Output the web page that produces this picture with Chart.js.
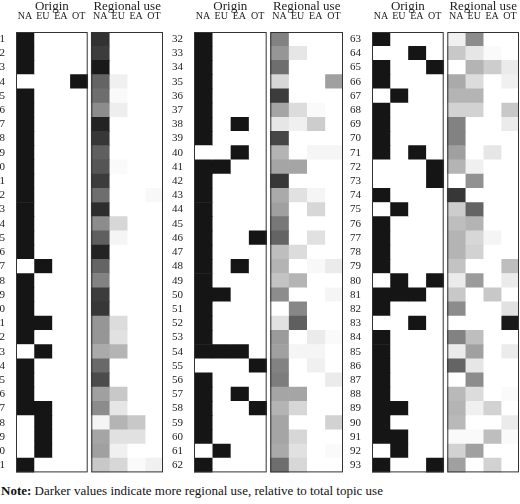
<!DOCTYPE html>
<html lang="en">
<head>
<meta charset="UTF-8">
<script src="https://cdn.jsdelivr.net/npm/chart.js"></script>
<title>Origin and regional use</title>
<style>
  body { margin: 0; background: #fff; font-family: "Liberation Serif", "Times New Roman", "DejaVu Serif", serif; }
  .panel { position: absolute; top: 0; height: 482px; }
  .note { position: absolute; left: 1px; top: 483px; font-size: 13px; color: #111; }
</style>
</head>
<body>
<div class="panel" style="left:0;width:164px"><canvas id="p1"></canvas></div>
<div class="panel" style="left:172px;width:172px"><canvas id="p2"></canvas></div>
<div class="panel" style="left:346px;width:174px"><canvas id="p3"></canvas></div>
<div class="note"><b>Note:</b> Darker values indicate more regional use, relative to total topic use</div>
<script>
const regions = ['NA', 'EU', 'EA', 'OT'];

// origin region(s) of each topic, 1..93
const origin = [
  'NA','NA','NA','OT','NA','NA','NA','NA','NA','NA','NA','NA','NA','NA','NA','NA',
  'EU','NA','NA','NA','NA EU','NA','EU','NA','NA','NA','NA EU','EU','EU','EU','NA',
  'NA','NA','NA','NA','NA','NA','NA EA','NA','EA','NA EU','NA','NA','NA','NA','NA OT',
  'NA','NA EA','NA','NA EU','NA','NA','NA','NA EU EA','OT','NA','NA EA','NA OT','NA','NA','EU','NA',
  'NA','EA','NA OT','NA','EU','NA','NA','NA','NA EA','OT','OT','NA','EU','NA','NA','NA',
  'NA','EU OT','NA EU EA','NA','EA','NA','NA','NA','NA','NA','NA EU','NA','NA EU','EU','NA OT'
];

// regional use shade (grey level, 255 = no use) for NA, EU, EA, OT
const regionalGray = [
  [50],[60],[25],[100,240],[110,250],[140,238],[35],[55],[95],[85,250],[60],[110,255,255,248],
  [45],[140,215],[95,245],[35],[100],[130],[60],[55],[150,220],[150,225],[170,180],[105],[75],
  [160,200],[140,230],[245,180,200],[165,225,225],[160,240],[200,215,250,240],
  [130],[150,230],[110],[215,255,255,160],[60],[165,220,250],[230,240,205],[70],[180,255,245,245],
  [165,165],[55],[170,225,245],[160,255,215],[120],[100,255,225],[190,220],[180,255,248,235],
  [195,180],[140,255,255,245],[255,135],[225,95],[155,255,235,250],[160,245,245],[130,255,240],
  [125,255,255,235],[165,165],[180,215],[165,255,255,210],[165,215],[170,225,255,250],[110,215],
  [240,140],[200,230,250],[255,180,205,235],[170,220,255,240],[180,180],[210,210,255,200],
  [130,255,255,235],[130],[160,255,230],[180,240],[255,145],[55],[205,100],[190,180],[180,215,245],
  [180,210],[195,255,255,190],[235,155,255,235],[200,255,200,255],[140,255,255,225],[255,255,255,25],
  [130,190],[235,160,255,235],[100,230],[255,140],[185,220,255,250],[180,240,210],[185,255,255,235],
  [250,250,190,250],[210,160],[160,255,210]
];

const gap = 0.2;
const colLabels = ['NA','EU','EA','OT','NA','EU','EA','OT'];
const colCenters = [0.5, 1.5, 2.5, 3.5, 4.5 + gap, 5.5 + gap, 6.5 + gap, 7.5 + gap];
const serif = "'Liberation Serif', 'Times New Roman', 'DejaVu Serif', serif";

const boxPlugin = {
  id: 'boxes',
  afterDatasetsDraw(chart) {
    const { ctx, chartArea, scales } = chart;
    const x = scales.x;
    ctx.save();
    ctx.strokeStyle = '#333';
    ctx.lineWidth = 1;
    [[0, 4], [4 + gap, 8 + gap]].forEach(([a, b]) => {
      const x0 = x.getPixelForValue(a), x1 = x.getPixelForValue(b);
      ctx.strokeRect(x0 + 0.5, chartArea.top + 0.5, x1 - x0 - 1, chartArea.bottom - chartArea.top - 1);
    });
    ctx.fillStyle = '#222';
    ctx.font = '13px ' + serif;
    ctx.textAlign = 'center';
    ctx.textBaseline = 'middle';
    ctx.fillText('Origin', x.getPixelForValue(2), 7);
    ctx.fillText('Regional use', x.getPixelForValue(6 + gap), 7);
    ctx.restore();
  }
};

function drawPanel(id, start, end, axisWidth) {
  const labels = [];
  for (let i = start; i <= end; i++) labels.push(String(i));
  const idx = labels.map(l => Number(l) - 1);
  const datasets = [];
  regions.forEach(r => {
    datasets.push({
      data: idx.map(() => 1),
      backgroundColor: idx.map(i => origin[i].split(' ').includes(r) ? '#151515' : '#fff')
    });
  });
  datasets.push({ data: idx.map(() => gap), backgroundColor: 'rgba(0,0,0,0)' });
  regions.forEach((r, c) => {
    datasets.push({
      data: idx.map(() => 1),
      backgroundColor: idx.map(i => {
        const v = regionalGray[i][c] ?? 255;
        return `rgb(${v},${v},${v})`;
      })
    });
  });
  datasets.forEach(d => { d.barPercentage = 1; d.categoryPercentage = 1; d.borderWidth = 0; });

  new Chart(document.getElementById(id), {
    type: 'bar',
    data: { labels: labels, datasets: datasets },
    options: {
      indexAxis: 'y',
      responsive: true,
      maintainAspectRatio: false,
      animation: false,
      layout: { padding: { right: 1, bottom: 1 } },
      plugins: { legend: { display: false }, tooltip: { enabled: false } },
      scales: {
        x: {
          stacked: true, position: 'top', min: 0, max: 8 + gap,
          grid: { display: false }, border: { display: false },
          afterBuildTicks: a => { a.ticks = colCenters.map(v => ({ value: v })); },
          afterFit: s => { s.height = 32; },
          ticks: {
            autoSkip: false, maxRotation: 0, padding: 2, color: '#222',
            font: { family: serif, size: 10 },
            callback: (v, i) => colLabels[i]
          }
        },
        y: {
          stacked: true,
          grid: { display: false }, border: { display: false },
          afterFit: s => { s.width = axisWidth; },
          ticks: { autoSkip: false, padding: 3, color: '#222', font: { family: serif, size: 11 } }
        }
      }
    },
    plugins: [boxPlugin]
  });
}

Chart.defaults.font.family = serif;
Promise.all([
  document.fonts.load('11px "Liberation Serif"'),
  document.fonts.load('bold 13px "Liberation Serif"')
]).catch(() => {}).then(() => {
  drawPanel('p1', 1, 31, 16);
  drawPanel('p2', 32, 62, 22);
  drawPanel('p3', 63, 93, 26);
});
</script>
</body>
</html>
